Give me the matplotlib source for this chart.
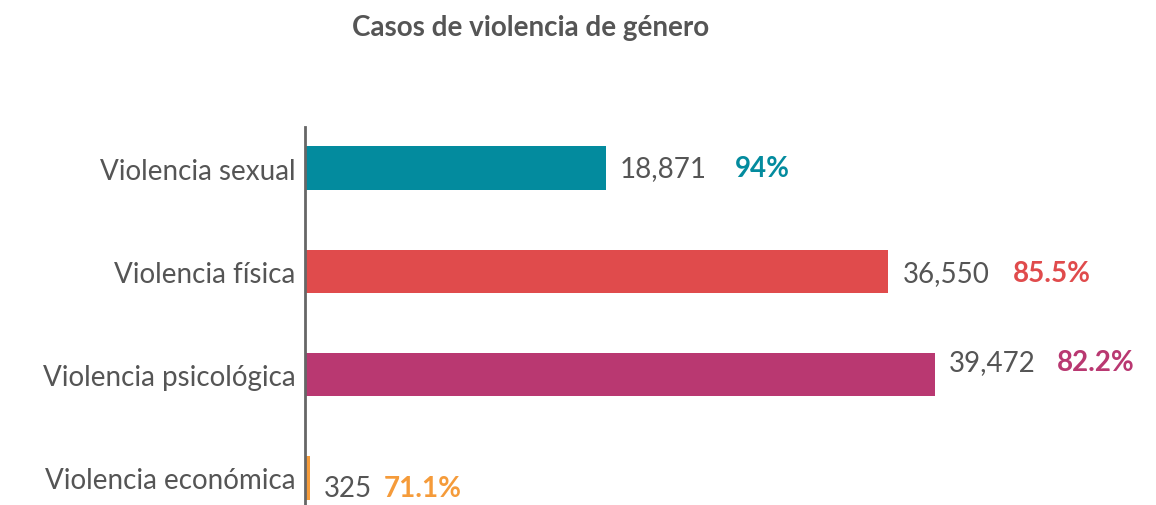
import matplotlib.pyplot as plt

categorias = ["Violencia sexual", "Violencia física", "Violencia psicológica", "Violencia económica"]
casos = [18871, 36550, 39472, 325]
porcentajes = ["94%", "85.5%", "82.2%", "71.1%"]
colores = ["#038B9E", "#E04B4C", "#B93871", "#F59B3A"]


def main():
    plt.rcParams['font.family'] = ['Lato', 'DejaVu Sans']
    gris = "#555555"

    fig = plt.figure(figsize=(11.56, 5.06), dpi=100)
    ax = fig.add_axes([0.2638, 0.002, 0.95 - 0.2638, 0.745])

    ypos = [3, 2, 1, 0]
    ax.barh(ypos, casos, height=0.42, color=colores)
    ax.set_xlim(0, 49685)
    ax.set_ylim(-0.252, 3.397)

    for s in ["top", "right", "bottom"]:
        ax.spines[s].set_visible(False)
    ax.spines["left"].set_color("#666666")
    ax.spines["left"].set_linewidth(2)
    ax.set_xticks([])
    ax.set_yticks(ypos)
    ax.set_yticklabels(categorias, fontsize=20, color=gris)
    ax.tick_params(axis="y", length=0, pad=7)

    # pequeños desplazamientos verticales de las etiquetas (pt)
    dy = [0, -1, 9, -7]
    gap = [20, 17, 15, 8]
    for y, v, p, c, d, g in zip(ypos, casos, porcentajes, colores, dy, gap):
        t = ax.annotate("{:,}".format(v), xy=(v, y), xytext=(10, d),
                        textcoords="offset points", va="center", ha="left",
                        fontsize=20, color=gris)
        ax.annotate(p, xy=(1, 0.5), xycoords=t, xytext=(g, 0),
                    textcoords="offset points", va="center", ha="left",
                    fontsize=20, fontweight="bold", color=c)

    fig.text(0.459, 0.945, "Casos de violencia de género", ha="center", va="center",
             fontsize=20, fontweight="bold", color=gris)

    fig.savefig("out.png", dpi=100)


if __name__ == '__main__':
    main()
